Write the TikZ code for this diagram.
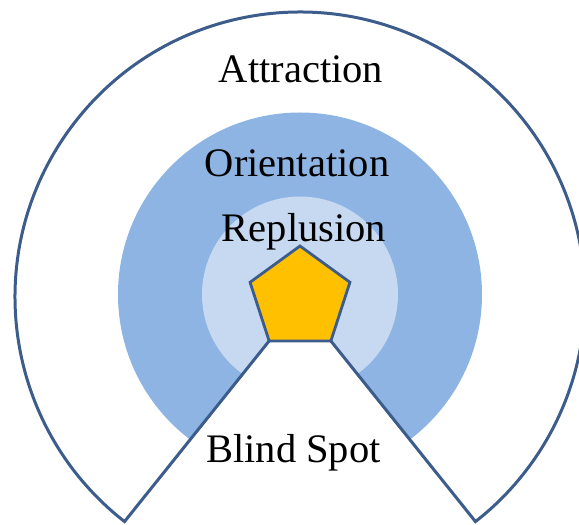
\documentclass[tikz,border=0pt]{standalone}
\usepackage{fontspec}
\setmainfont{Liberation Serif}
\usetikzlibrary{shapes.geometric}
\definecolor{lineblue}{RGB}{60,92,140}
\definecolor{midblue}{RGB}{141,180,227}
\definecolor{lightblue}{RGB}{198,217,241}
\definecolor{gold}{RGB}{255,192,0}
\tikzset{
  zonelabel/.style={anchor=base, inner sep=0pt, font=\fontsize{40.5}{48}\selectfont, text=black},
  outline/.style={draw=lineblue, line width=3pt, line join=miter},
}
\begin{document}
\begin{tikzpicture}[x=1pt,y=1pt]
\useasboundingbox (0,0) rectangle (579,525);
\clip (0,0) rectangle (579,525);
\fill[white] (0,0) rectangle (579,525);
\coordinate (O) at (300,228);
\coordinate (M) at (300,230.5);
% zones
\fill[midblue] (M) circle[radius=182];
\fill[lightblue] (M) circle[radius=98];
% agent
\node[regular polygon, regular polygon sides=5, minimum size=105pt, inner sep=0pt, outer sep=0pt] (P) at (300,226.5) {};
\coordinate (L) at ([shift={(232:285)}]O);
\coordinate (R) at ([shift={(-52:285)}]O);
% blind spot
\fill[white] (P.corner 3) -- (L) -- (R) -- (P.corner 4) -- cycle;
\draw[outline] (P.corner 3) -- (L) arc[start angle=232, end angle=-52, radius=285] -- (P.corner 4);
\node[regular polygon, regular polygon sides=5, minimum size=105pt, inner sep=0pt, outer sep=0pt, fill=gold, draw=lineblue, line width=2.8pt] (P2) at (300,226.5) {};
% labels
\node[zonelabel] (att) at (301,442) {Attraction};
\node[zonelabel] (ori) at (297,348) {Orientation};
\node[zonelabel] (rep) at (304,283) {Replusion};
\node[zonelabel] (bli) at (293.5,62) {Blind Spot};
\end{tikzpicture}
\end{document}
